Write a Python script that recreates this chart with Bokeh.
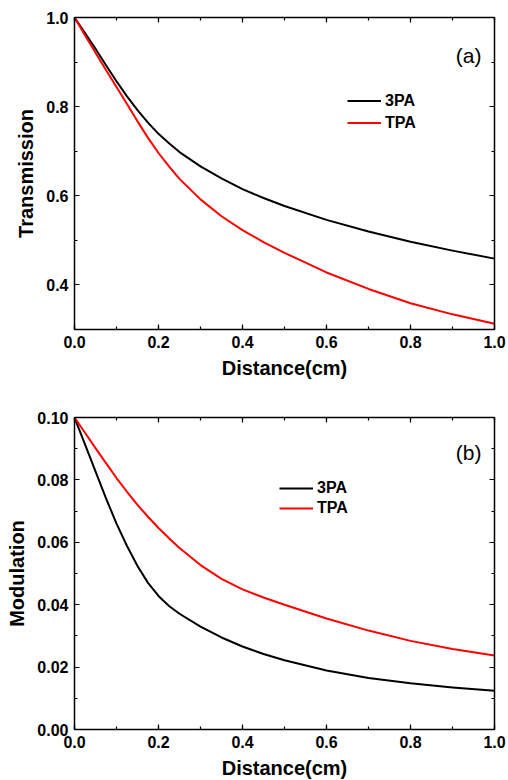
from bokeh.plotting import figure
from bokeh.layouts import column
from bokeh.models import (LinearAxis, SingleIntervalTicker, NumeralTickFormatter,
                          Legend, LegendItem, Label, Range1d)
from bokeh.embed import file_html
from bokeh.resources import INLINE

# ---- data ----
distance = [0.0, 0.025, 0.05, 0.075, 0.1, 0.125, 0.15, 0.175, 0.2, 0.225, 0.25, 0.3, 0.35,
            0.4, 0.45, 0.5, 0.6, 0.7, 0.8, 0.9, 1.0]
trans_3pa = [1.000, 0.965, 0.930, 0.893, 0.857, 0.823, 0.792, 0.764, 0.739, 0.718, 0.698, 0.666,
             0.639, 0.615, 0.595, 0.577, 0.546, 0.520, 0.497, 0.477, 0.459]
trans_tpa = [1.000, 0.960, 0.921, 0.882, 0.844, 0.806, 0.767, 0.730, 0.696, 0.666, 0.638, 0.592,
             0.554, 0.523, 0.496, 0.472, 0.428, 0.391, 0.359, 0.334, 0.313]
mod_3pa = [0.1000, 0.0914, 0.0827, 0.0741, 0.0660, 0.0588, 0.0524, 0.0470, 0.0428, 0.0396,
           0.0371, 0.0330, 0.0295, 0.0266, 0.0242, 0.0222, 0.0189, 0.0165, 0.0148, 0.0135, 0.0124]
mod_tpa = [0.1000, 0.0951, 0.0902, 0.0854, 0.0806, 0.0762, 0.0720, 0.0682, 0.0646, 0.0613,
           0.0582, 0.0527, 0.0483, 0.0449, 0.0423, 0.0400, 0.0356, 0.0317, 0.0284, 0.0258, 0.0237]
series_names = ["3PA", "TPA"]
series_colors = ["#000000", "#ff0000"]
x_label = "Distance(cm)"
FONT = "Liberation Sans"


def style_axis(ax, show_labels=True):
    ax.axis_line_color = "black"
    ax.axis_line_width = 1.5
    ax.major_tick_in = 5
    ax.major_tick_out = 0
    ax.minor_tick_in = 3
    ax.minor_tick_out = 0
    ax.major_tick_line_width = 1.2
    ax.minor_tick_line_width = 1.2
    ax.major_label_text_font = FONT
    ax.major_label_text_font_style = "bold"
    ax.axis_label_text_font = FONT
    ax.axis_label_text_font_style = "bold"
    ax.axis_label_text_font_size = "20px"
    ax.axis_label_text_color = "black"
    ax.axis_label_standoff = 6
    if show_labels:
        ax.major_label_text_font_size = "16px"
        ax.major_label_text_color = "black"
        ax.major_label_standoff = 6
    else:
        ax.major_label_text_font_size = "1px"
        ax.major_label_text_color = None
        ax.major_label_text_alpha = 0
        ax.major_label_standoff = 0


def make_panel(ys, y_start, y_end, y_step, y_fmt, y_label, tag, legend_loc,
               tag_pos, min_top, min_bottom, row_h, spacing):
    p = figure(width=508, frame_width=420, frame_height=312,
               x_range=Range1d(0, 1), y_range=Range1d(y_start, y_end),
               output_backend="svg", toolbar_location=None,
               min_border_left=74, min_border_right=14,
               min_border_top=min_top, min_border_bottom=min_bottom,
               x_axis_location=None, y_axis_location=None)
    p.grid.visible = False
    p.outline_line_color = None
    p.background_fill_color = "white"
    p.border_fill_color = "white"

    xt = SingleIntervalTicker(interval=0.2, num_minor_ticks=2)
    yt = SingleIntervalTicker(interval=y_step, num_minor_ticks=2)

    bottom = LinearAxis(ticker=xt, axis_label=x_label,
                        formatter=NumeralTickFormatter(format="0.0"))
    left = LinearAxis(ticker=yt, axis_label=y_label,
                      formatter=NumeralTickFormatter(format=y_fmt))
    top = LinearAxis(ticker=xt)
    right = LinearAxis(ticker=yt)
    style_axis(bottom)
    style_axis(left)
    style_axis(top, False)
    style_axis(right, False)
    p.add_layout(bottom, "below")
    p.add_layout(left, "left")
    p.add_layout(top, "above")
    p.add_layout(right, "right")

    renderers = []
    for yv, col in zip(ys, series_colors):
        r = p.line(distance, yv, line_color=col, line_width=2,
                   line_join="round")
        renderers.append(r)

    legend = Legend(items=[LegendItem(label=n, renderers=[r])
                           for n, r in zip(series_names, renderers)],
                    location=legend_loc, orientation="vertical",
                    border_line_color=None, background_fill_alpha=0,
                    padding=0, margin=0, spacing=spacing,
                    glyph_width=34, glyph_height=row_h, label_height=row_h,
                    label_standoff=4,
                    label_text_font=FONT, label_text_font_style="bold",
                    label_text_font_size="16px", label_text_color="black")
    p.add_layout(legend, "center")

    lab = Label(x=tag_pos[0], y=tag_pos[1], text=tag, text_font=FONT,
                text_font_size="21px", text_align="right",
                text_baseline="middle", text_color="black")
    p.add_layout(lab)
    return p


pa = make_panel([trans_3pa, trans_tpa], 0.3, 1.0, 0.2, "0.0", "Transmission",
                "(a)", (273, 197), (0.969, 0.914), 17, 60, 19, 3)
pb = make_panel([mod_3pa, mod_tpa], 0.0, 0.1, 0.02, "0.00", "Modulation",
                "(b)", (205, 212), (0.969, 0.0887), 28, 51, 18, 2)

layout = column(pa, pb, spacing=0)
open("out.html", "w").write(file_html(layout, INLINE))
